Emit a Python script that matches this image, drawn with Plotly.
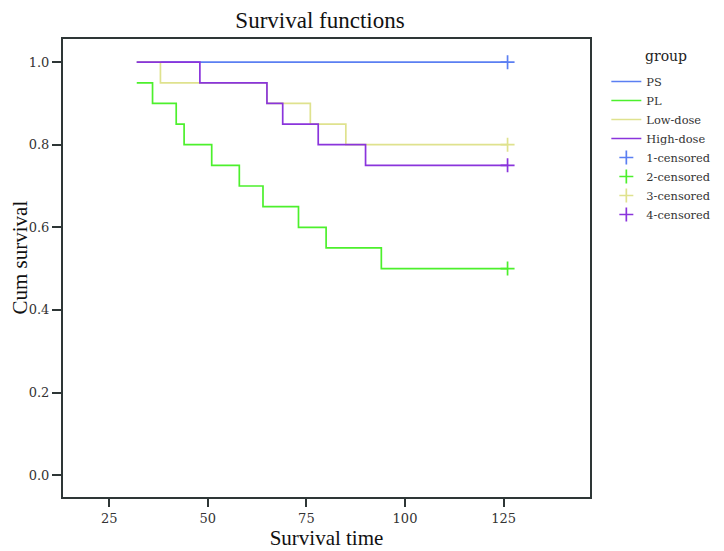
import plotly.graph_objects as go

groups = ["PS", "PL", "Low-dose", "High-dose"]
colors = ["#5b7ff2", "#4cf02c", "#dfe28e", "#8a34dc"]

ps_time = [32, 126]
ps_surv = [1.0, 1.0]
pl_time = [32, 36, 42, 44, 51, 58, 64, 73, 80, 94, 126]
pl_surv = [0.95, 0.90, 0.85, 0.80, 0.75, 0.70, 0.65, 0.60, 0.55, 0.50, 0.50]
low_time = [32, 38, 65, 76, 85, 126]
low_surv = [1.0, 0.95, 0.90, 0.85, 0.80, 0.80]
high_time = [32, 48, 65, 69, 78, 90, 126]
high_surv = [1.0, 0.95, 0.90, 0.85, 0.80, 0.75, 0.75]

censor_time = [126, 126, 126, 126]
censor_surv = [1.0, 0.50, 0.80, 0.75]
censor_names = ["1-censored", "2-censored", "3-censored", "4-censored"]

x_ticks = [25, 50, 75, 100, 125]
y_ticks = [0.0, 0.2, 0.4, 0.6, 0.8, 1.0]

series = [(ps_time, ps_surv), (pl_time, pl_surv), (low_time, low_surv), (high_time, high_surv)]

fig = go.Figure()
for name, col, (t, s) in zip(groups, colors, series):
    fig.add_trace(go.Scatter(x=t, y=s, mode="lines", line=dict(color=col, width=1.7, shape="hv"),
                             name=name))
for name, col, t, s in zip(censor_names, colors, censor_time, censor_surv):
    fig.add_trace(go.Scatter(x=[t], y=[s], mode="markers", name=name,
                             marker=dict(symbol="cross-thin", size=10, line=dict(color=col, width=1.7))))

title_font = "Liberation Serif, Times New Roman, serif"
tick_font = "DejaVu Serif, serif"
axis_col = "#2e3636"

W, H = 716, 543
L, R, T, B = 54.5, 134.3, 31, 54
PW, PH = W - L - R, H - T - B

fig.update_layout(
    width=W, height=H,
    margin=dict(l=L, r=R, t=T, b=B, autoexpand=False),
    paper_bgcolor="white", plot_bgcolor="white",
    font=dict(family=tick_font, color="#333"),
    title=dict(text="Survival functions", x=312 / W, xanchor="center",
               y=1 - 12 / H, yanchor="middle", font=dict(family=title_font, size=23, color="#111")),
    legend=dict(x=1.031, y=1 - (59 - T) / PH, xanchor="left", yanchor="top",
                font=dict(size=11.4, color="#333"), tracegroupgap=0, itemwidth=30),
    showlegend=True,
    annotations=[
        dict(text="Cum survival", textangle=-90, xref="paper", yref="paper",
             x=-(L - 11) / PW, y=1 - (250 - T) / PH,
             xanchor="center", yanchor="middle", showarrow=False,
             font=dict(family=title_font, size=21, color="#111")),
        dict(text="group", xref="paper", yref="paper",
             x=(658 - L) / PW, y=1 - (48 - T) / PH,
             xanchor="center", yanchor="middle", showarrow=False,
             font=dict(family=tick_font, size=14, color="#222")),
    ],
)
fig.update_xaxes(range=[13.3, 146.9], tickvals=x_ticks, ticks="outside", ticklen=8, tickwidth=2,
                 tickcolor=axis_col, showgrid=False, zeroline=False, showline=True, linecolor=axis_col,
                 linewidth=2, mirror=True, tickfont=dict(size=13),
                 title=dict(text="Survival time", font=dict(family=title_font, size=21, color="#111"),
                            standoff=3))
fig.update_yaxes(range=[-0.053, 1.056], tickvals=y_ticks, tickformat=".1f", ticks="outside", ticklen=9,
                 tickwidth=2, tickcolor=axis_col, showgrid=False, zeroline=False, showline=True,
                 linecolor=axis_col, linewidth=2, mirror=True, tickfont=dict(size=13))

fig.write_html("out.html")
